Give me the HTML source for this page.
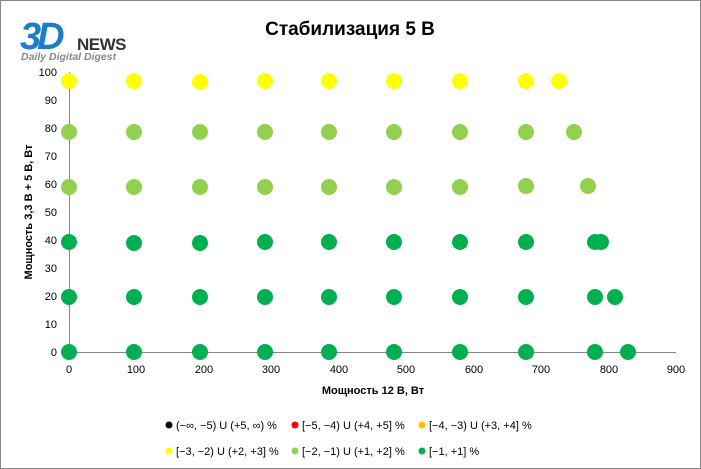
<!DOCTYPE html><html><head><style>body{margin:0;background:#fff}svg{display:block;font-family:"Liberation Sans",Arial,sans-serif}</style></head><body>
<svg width="701" height="469" viewBox="0 0 701 469">
<rect x="0.5" y="0.5" width="700" height="468" fill="#fff" stroke="#888"/>
<text x="20" y="49" font-size="38" font-weight="bold" font-style="italic" fill="#1a7fc8" letter-spacing="-4">3D</text>
<text x="77" y="50" font-size="17" font-weight="bold" fill="#333" letter-spacing="-0.5">NEWS</text>
<text x="21" y="60" font-size="10.5" font-weight="bold" font-style="italic" fill="#888">Daily Digital Digest</text>
<text x="350" y="35" font-size="19" font-weight="bold" text-anchor="middle">Стабилизация 5 В</text>
<g stroke="#868686" stroke-width="1">
<line x1="69.5" y1="72" x2="69.5" y2="357"/>
<line x1="65" y1="352.5" x2="676" y2="352.5"/>
</g>
<g font-size="11" fill="#000" text-anchor="end">
<text x="57" y="356">0</text><text x="57" y="328">10</text><text x="57" y="300">20</text><text x="57" y="272">30</text><text x="57" y="244">40</text><text x="57" y="216">50</text><text x="57" y="188">60</text><text x="57" y="160">70</text><text x="57" y="132">80</text><text x="57" y="104">90</text><text x="57" y="76">100</text>
</g>
<g font-size="11" fill="#000" text-anchor="middle">
<text x="69" y="373">0</text><text x="136" y="373">100</text><text x="204" y="373">200</text><text x="271" y="373">300</text><text x="339" y="373">400</text><text x="406" y="373">500</text><text x="474" y="373">600</text><text x="541" y="373">700</text><text x="609" y="373">800</text><text x="676" y="373">900</text>
</g>
<text x="373" y="394" font-size="11" font-weight="bold" text-anchor="middle">Мощность  12 В, Вт</text>
<text transform="translate(32,212) rotate(-90)" font-size="11" font-weight="bold" text-anchor="middle">Мощность  3,3 В + 5 В, Вт</text>
<g fill="#FFFF00">
<circle cx="69" cy="81" r="8"/><circle cx="134" cy="81" r="8"/><circle cx="200" cy="82" r="8"/><circle cx="265" cy="81" r="8"/><circle cx="329" cy="81" r="8"/><circle cx="394" cy="81" r="8"/><circle cx="460" cy="81" r="8"/><circle cx="526" cy="81" r="8"/><circle cx="559" cy="81" r="8"/>
</g>
<g fill="#92D050">
<circle cx="69" cy="132" r="8"/><circle cx="134" cy="132" r="8"/><circle cx="200" cy="132" r="8"/><circle cx="265" cy="132" r="8"/><circle cx="329" cy="132" r="8"/><circle cx="394" cy="132" r="8"/><circle cx="460" cy="132" r="8"/><circle cx="526" cy="132" r="8"/><circle cx="574" cy="132" r="8"/>
<circle cx="69" cy="187" r="8"/><circle cx="134" cy="187" r="8"/><circle cx="200" cy="187" r="8"/><circle cx="265" cy="187" r="8"/><circle cx="329" cy="187" r="8"/><circle cx="394" cy="187" r="8"/><circle cx="460" cy="187" r="8"/><circle cx="526" cy="186" r="8"/><circle cx="588" cy="186" r="8"/>
</g>
<g fill="#00B050">
<circle cx="69" cy="242" r="8"/><circle cx="134" cy="243" r="8"/><circle cx="200" cy="243" r="8"/><circle cx="265" cy="242" r="8"/><circle cx="329" cy="242" r="8"/><circle cx="394" cy="242" r="8"/><circle cx="460" cy="242" r="8"/><circle cx="526" cy="242" r="8"/><circle cx="595" cy="242" r="8"/><circle cx="601" cy="242" r="8"/>
<circle cx="69" cy="297" r="8"/><circle cx="134" cy="297" r="8"/><circle cx="200" cy="297" r="8"/><circle cx="265" cy="297" r="8"/><circle cx="329" cy="297" r="8"/><circle cx="394" cy="297" r="8"/><circle cx="460" cy="297" r="8"/><circle cx="526" cy="297" r="8"/><circle cx="595" cy="297" r="8"/><circle cx="615" cy="297" r="8"/>
<circle cx="69" cy="352" r="8"/><circle cx="134" cy="352" r="8"/><circle cx="200" cy="352" r="8"/><circle cx="265" cy="352" r="8"/><circle cx="329" cy="352" r="8"/><circle cx="394" cy="352" r="8"/><circle cx="460" cy="352" r="8"/><circle cx="526" cy="352" r="8"/><circle cx="595" cy="352" r="8"/><circle cx="628" cy="352" r="8"/>
</g>
<g font-size="11" fill="#000">
<circle cx="169" cy="425" r="3.5" fill="#000"/><text x="176" y="429">(−∞, −5) U (+5, ∞) %</text>
<circle cx="295" cy="425" r="3.5" fill="#f00"/><text x="302" y="429">[−5, −4) U (+4, +5] %</text>
<circle cx="422" cy="425" r="3.5" fill="#FFC000"/><text x="429" y="429">[−4, −3) U (+3, +4] %</text>
<circle cx="169" cy="451" r="3.5" fill="#FFFF00"/><text x="176" y="455">[−3, −2) U (+2, +3] %</text>
<circle cx="295" cy="451" r="3.5" fill="#92D050"/><text x="302" y="455">[−2, −1) U (+1, +2] %</text>
<circle cx="422" cy="451" r="3.5" fill="#00B050"/><text x="429" y="455">[−1, +1] %</text>
</g>
</svg></body></html>
